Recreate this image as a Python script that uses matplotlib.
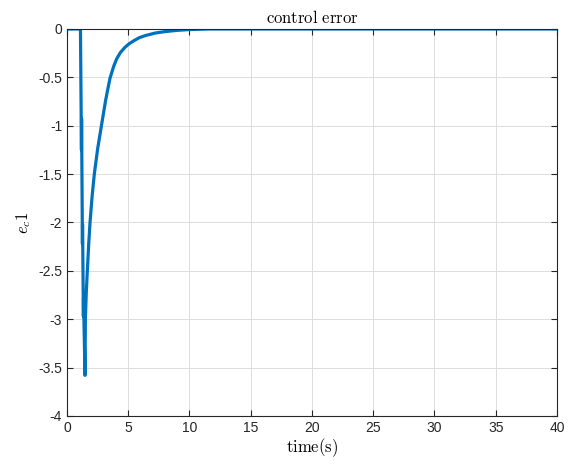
import numpy as np
import matplotlib.pyplot as plt

plt.rcParams["mathtext.fontset"] = "cm"
plt.rcParams["axes.unicode_minus"] = False
plt.rcParams["font.family"] = ["Liberation Sans", "DejaVu Sans"]

# time (s) and control error e_c1
t = [0.0, 1.10, 1.18, 1.19, 1.26, 1.27, 1.34, 1.35, 1.47,
     1.50, 1.57, 1.66, 1.77, 1.88, 2.05, 2.23, 2.50, 2.85, 3.15, 3.35, 3.51,
     3.80, 4.05, 4.35, 4.73, 5.05, 5.41, 5.90, 6.40, 7.20, 8.00, 9.00,
     10.0, 11.5, 40.0]
e_c1 = [0.0, 0.0, -1.25, -0.93, -2.22, -2.02, -2.97, -2.78, -3.58,
        -3.00, -2.74, -2.50, -2.23, -2.00, -1.73, -1.50, -1.24, -0.97, -0.74, -0.61, -0.51,
        -0.39, -0.31, -0.245, -0.19, -0.155, -0.125, -0.09, -0.068, -0.042, -0.027, -0.014,
        -0.006, 0.0, 0.0]

xticks = np.arange(0, 41, 5)
yticks = np.arange(-4, 0.01, 0.5)

fig = plt.figure(figsize=(5.76, 4.66), dpi=100)
ax = fig.add_axes([0.1163, 0.1073, 0.8507, 0.8305])

ax.plot(t, e_c1, color="#0072BD", lw=2.3)

ax.set_xlim(0, 40)
ax.set_ylim(-4, 0)
ax.set_xticks(xticks)
ax.set_yticks(yticks)
ax.set_yticklabels(["-4", "-3.5", "-3", "-2.5", "-2", "-1.5", "-1", "-0.5", "0"])
ax.grid(True, color="#dcdcdc", lw=0.7)
ax.tick_params(direction="in", top=True, right=True, labelsize=10,
               colors="#262626", length=4)
for s in ax.spines.values():
    s.set_color("#262626")
    s.set_linewidth(0.8)

ax.set_title(r"$\mathrm{control\ error}$", fontsize=12, pad=4)
ax.set_xlabel(r"$\mathrm{time(s)}$", fontsize=12, labelpad=1)
ax.set_ylabel(r"$e_c1$", fontsize=12, labelpad=4)

fig.savefig("out.png", dpi=100)
